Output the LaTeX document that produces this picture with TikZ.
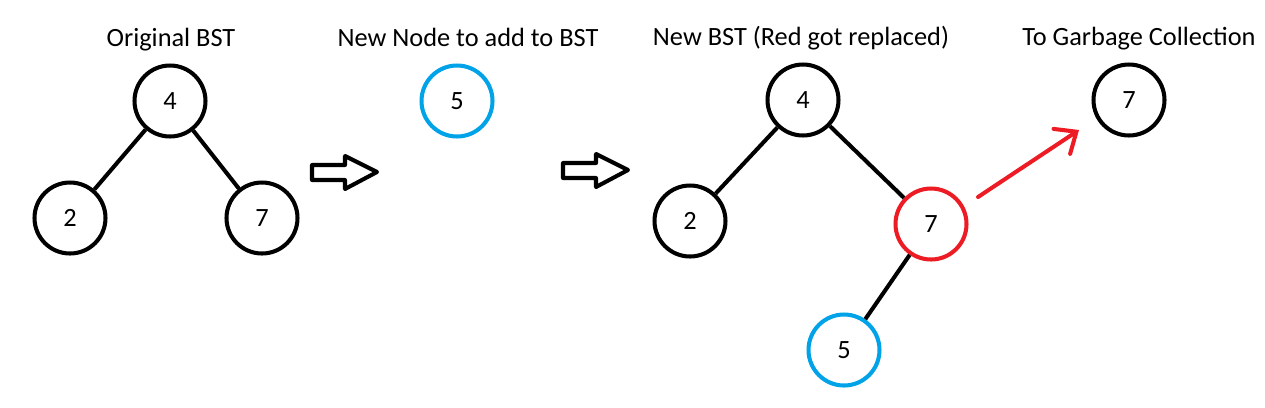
\documentclass[tikz,border=0pt]{standalone}
\usepackage{fontspec}
\setmainfont{Carlito}
\usetikzlibrary{arrows.meta}

\definecolor{paintRed}{RGB}{237,28,36}
\definecolor{paintBlue}{RGB}{0,162,232}

\begin{document}
\begin{tikzpicture}[x=0.02cm, y=-0.02cm, inner sep=0pt, font=\fontsize{15}{18}\selectfont]
            \useasboundingbox (0,0) rectangle (1265,407);

            \tikzstyle{myCir}=[circle, draw, line width=2.3pt, minimum size=1.42cm];
            \tikzstyle{myEdge}=[line width=2.3pt];
            \tikzstyle{myTitle}=[anchor=base];
            \tikzstyle{myBlock}=[line width=2.3pt, line join=round];

            % titles
            \node[myTitle] (tOrig) at (171,46) {Original BST};
            \node[myTitle] (tNew) at (468,46) {New Node to add to BST};
            \node[myTitle] (tRes) at (801,45) {New BST (Red got replaced)};
            \node[myTitle] (tGc) at (1139,45) {To Garbage Collection};

            % original tree
            \node[myCir] (o4) at (170,101) {4};
            \node[myCir] (o2) at (70,218) {2} edge[myEdge] (o4);
            \node[myCir] (o7) at (262,218) {7} edge[myEdge] (o4);

            % the new node
            \node[myCir, draw=paintBlue] (n5) at (457,101) {5};

            % hollow arrows
            \foreach \x/\y in {312/172, 563/170}
              \draw[myBlock] (\x,\y) ++(0,-7) -- ++(33,0) -- ++(0,-9) -- ++(32,16)
                -- ++(-32,17) -- ++(0,-9) -- ++(-33,0) -- cycle;

            % resulting tree
            \node[myCir] (r4) at (803,100) {4};
            \node[myCir] (r2) at (690,221) {2} edge[myEdge] (r4);
            \node[myCir, draw=paintRed] (r7) at (931,224) {7} edge[myEdge] (r4);
            \node[myCir, draw=paintBlue] (r5) at (844,350) {5} edge[myEdge] (r7);

            % garbage
            \node[myCir] (g7) at (1129,100) {7};
            \coordinate (from) at (978,197);
            \coordinate (to) at (1079,130);
            \draw[myEdge, paintRed, line cap=round,
              -{Straight Barb[length=3.5mm, width=6mm, line cap=round]}] (from) -- (to);
         \end{tikzpicture}
\end{document}
